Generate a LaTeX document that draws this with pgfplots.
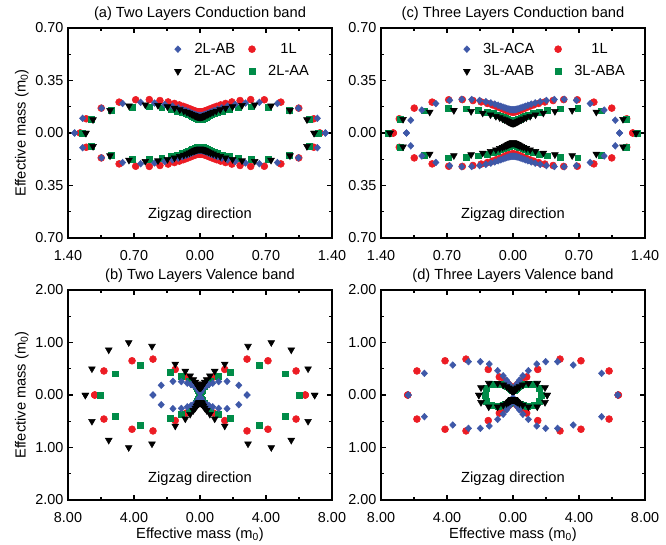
\documentclass[border=0pt]{standalone}
\usepackage{fontspec}
\setmainfont{Liberation Sans}
\usepackage{pgfplots}
\usepackage{pgfplotstable}
\pgfplotsset{compat=1.18}
\definecolor{myred}{RGB}{236,28,36}
\definecolor{myblue}{RGB}{62,88,168}
\definecolor{mygreen}{RGB}{0,140,72}

% ---------- quadrant data (first quadrant, angles 0..90 deg in 4.5 deg steps) ----------
% Panel (a) and (c): 1L conduction
\pgfplotstableread{
x y
1.270 0
1.2061 0.0949
1.0475 0.1659
0.8576 0.2059
0.6821 0.2216
0.5377 0.2227
0.4248 0.2165
0.3380 0.2071
0.2712 0.1970
0.2193 0.1873
0.1783 0.1783
0.1455 0.1704
0.1188 0.1635
0.0966 0.1577
0.0778 0.1528
0.0616 0.1487
0.0473 0.1455
0.0343 0.1431
0.0224 0.1413
0.0110 0.1403
0 0.140
}\redA
\pgfplotstableread{
x y
1.330 0
1.2450 0.0980
1.0437 0.1653
0.8207 0.1970
0.6296 0.2046
0.4824 0.1998
0.3729 0.1900
0.2919 0.1789
0.2314 0.1681
0.1854 0.1583
0.1497 0.1497
0.1215 0.1423
0.0988 0.1359
0.0800 0.1306
0.0643 0.1262
0.0508 0.1227
0.0389 0.1198
0.0283 0.1177
0.0184 0.1162
0.0091 0.1153
0 0.115
}\blueA
\pgfplotstableread{
x y
1.210 0
1.1344 0.0893
0.9544 0.1512
0.7534 0.1809
0.5800 0.1884
0.4454 0.1845
0.3450 0.1758
0.2705 0.1657
0.2146 0.1559
0.1721 0.1470
0.1390 0.1390
0.1129 0.1322
0.0918 0.1264
0.0744 0.1215
0.0598 0.1174
0.0473 0.1141
0.0362 0.1115
0.0263 0.1095
0.0171 0.1081
0.0084 0.1073
0 0.107
}\blackA
\pgfplotstableread{
x y
1.250 0
1.1565 0.0910
0.9439 0.1495
0.7209 0.1731
0.5399 0.1754
0.4061 0.1682
0.3099 0.1579
0.2403 0.1472
0.1891 0.1374
0.1506 0.1287
0.1212 0.1212
0.0981 0.1148
0.0795 0.1095
0.0643 0.1050
0.0516 0.1013
0.0407 0.0983
0.0312 0.0960
0.0226 0.0942
0.0147 0.0929
0.0073 0.0922
0 0.092
}\greenA
% Panel (c)
\pgfplotstableread{
x y
1.130 0
1.0846 0.0854
0.9671 0.1532
0.8182 0.1964
0.6714 0.2181
0.5434 0.2251
0.4384 0.2234
0.3546 0.2173
0.2881 0.2093
0.2352 0.2009
0.1928 0.1928
0.1583 0.1853
0.1298 0.1786
0.1060 0.1729
0.0856 0.1680
0.0679 0.1639
0.0522 0.1606
0.0380 0.1582
0.0248 0.1564
0.0122 0.1553
0 0.155
}\blueC
\pgfplotstableread{
x y
1.305 0
1.1661 0.0918
0.8832 0.1399
0.6273 0.1506
0.4444 0.1444
0.3216 0.1332
0.2388 0.1217
0.1817 0.1113
0.1410 0.1025
0.1113 0.0950
0.0888 0.0888
0.0715 0.0837
0.0577 0.0794
0.0466 0.0760
0.0373 0.0731
0.0293 0.0708
0.0224 0.0690
0.0162 0.0677
0.0106 0.0667
0.0052 0.0662
0 0.066
}\blackC
\pgfplotstableread{
x y
1.320 0
1.1985 0.0943
0.9382 0.1486
0.6872 0.1650
0.4981 0.1618
0.3660 0.1516
0.2747 0.1400
0.2105 0.1290
0.1642 0.1193
0.1301 0.1111
0.1042 0.1042
0.0840 0.0983
0.0679 0.0935
0.0549 0.0895
0.0439 0.0862
0.0346 0.0836
0.0265 0.0815
0.0192 0.0799
0.0125 0.0788
0.0062 0.0783
0 0.078
}\greenC
% Panel (b) and (d): 1L valence
\pgfplotstableread{
x y
6.38 0
5.822 0.458
4.119 0.652
2.849 0.684
1.500 0.487
0.831 0.344
0.535 0.272
0.384 0.235
0.283 0.206
0.213 0.182
0.163 0.163
0.130 0.152
0.100 0.138
0.078 0.128
0.064 0.125
0.050 0.120
0.039 0.119
0.028 0.117
0.019 0.119
0.009 0.120
0 0.120
}\redV
% Panel (b)
\pgfplotstableread{
x y
2.85 0
2.35 0.185
1.64 0.260
1.13 0.255
0.77 0.225
0.54 0.200
0.39 0.180
0.28 0.160
0.20 0.140
0.14 0.120
0.100 0.100
0.071 0.084
0.053 0.073
0.039 0.064
0.030 0.058
0.022 0.054
0.016 0.050
0.012 0.049
0.0075 0.047
0.0037 0.047
0 0.047
}\blueB
\pgfplotstableread{
x y
6.95 0
6.55 0.50
5.53 0.86
4.32 1.00
2.91 0.93
1.50 0.59
0.891 0.454
0.597 0.366
0.405 0.294
0.289 0.247
0.212 0.212
0.162 0.190
0.123 0.170
0.099 0.162
0.077 0.151
0.061 0.148
0.048 0.147
0.035 0.146
0.023 0.148
0.012 0.150
0 0.150
}\blackB
\pgfplotstableread{
x y
6.04 0
5.15 0.405
3.60 0.570
1.82 0.437
1.11 0.360
0.647 0.268
0.400 0.204
0.256 0.157
0.162 0.118
0.114 0.097
0.085 0.085
0.065 0.076
0.050 0.069
0.039 0.064
0.031 0.061
0.024 0.058
0.0185 0.057
0.0135 0.0564
0.0089 0.0563
0.0044 0.0558
0 0.056
}\greenB
% Panel (d)
\pgfplotstableread{
x y
6.35 0
5.37 0.413
3.65 0.571
2.70 0.635
1.98 0.635
1.44 0.590
0.93 0.463
0.597 0.366
0.388 0.282
0.259 0.221
0.177 0.177
0.123 0.144
0.088 0.121
0.063 0.102
0.045 0.089
0.033 0.079
0.023 0.071
0.016 0.066
0.010 0.062
0.005 0.060
0 0.060
}\blueD
\pgfplotstableread{
x y
2.07 0
1.94 0.140
1.47 0.225
0.933 0.224
0.590 0.192
0.388 0.161
0.267 0.136
0.196 0.120
0.146 0.106
0.114 0.097
0.092 0.092
0.075 0.087
0.062 0.085
0.051 0.084
0.042 0.083
0.034 0.083
0.027 0.084
0.020 0.085
0.013 0.085
0.007 0.086
0 0.086
}\blackD
\pgfplotstableread{
x y
1.70 0
1.615 0.127
1.284 0.203
0.875 0.210
0.618 0.200
0.443 0.184
0.330 0.168
0.247 0.152
0.186 0.135
0.144 0.123
0.113 0.113
0.091 0.106
0.073 0.101
0.060 0.098
0.049 0.095
0.038 0.092
0.030 0.091
0.022 0.090
0.014 0.090
0.007 0.090
0 0.090
}\greenD

\newcommand{\fourq}[2]{%
  \addplot[#1, forget plot] table[x=x,y=y]{#2};
  \addplot[#1, forget plot] table[x expr=-\thisrow{x},y=y]{#2};
  \addplot[#1, forget plot] table[x=x,y expr=-\thisrow{y}]{#2};
  \addplot[#1, forget plot] table[x expr=-\thisrow{x},y expr=-\thisrow{y}]{#2};
}

\newcommand{\lfont}{\fontsize{11}{13}\selectfont}

\pgfplotsset{
  every axis title shift=0pt,
  sred/.style={only marks, mark=*, mark size=2.6pt, color=myred},
  sblue/.style={only marks, mark=diamond*, mark size=2.5pt, color=myblue, mark options={xscale=1.25}},
  sblack/.style={only marks, mark=triangle*, mark size=2.9pt, color=black, mark options={rotate=180}},
  sgreen/.style={only marks, mark=square*, mark size=2.2pt, color=mygreen},
  panel/.style={
    scale only axis, width=198pt, height=157.5pt, anchor=north west,
    axis line style={line width=1.1pt},
    tick align=inside, tick pos=both,
    major tick length=4pt, minor tick length=2.5pt,
    tick style={line width=0.9pt, black},
    minor tick style={line width=0.9pt, black},
    ticklabel style={font=\fontsize{10.8}{12}\selectfont},
    xticklabel style={yshift=-5.5pt},
    enlargelimits=false,
    title style={at={(0.5,1.067)}, anchor=center, font=\lfont},
    ylabel style={at={(axis description cs:-0.175,0.5)}, anchor=center, font=\lfont},
    xlabel style={at={(axis description cs:0.5,-0.163)}, anchor=center, font=\lfont},
    legend columns=2, legend cell align=center,
    legend image code/.code={%
      \path (0cm,0cm) (0.65cm,0cm);
      \draw[#1] plot coordinates {(0.3cm,0cm)};},
  },
  cond/.style={
    xmin=-1.4, xmax=1.4, ymin=-0.7, ymax=0.7,
    xtick={-1.4,-0.7,0,0.7,1.4}, xticklabels={1.40,0.70,0.00,0.70,1.40},
    minor xtick={-1.05,-0.35,0.35,1.05},
    ytick={-0.7,-0.35,0,0.35,0.7}, yticklabels={0.70,0.35,0.00,0.35,0.70},
    minor ytick={-0.525,-0.175,0.175,0.525},
  },
  val/.style={
    xmin=-8, xmax=8, ymin=-2, ymax=2,
    xtick={-8,-4,0,4,8}, xticklabels={8.00,4.00,0.00,4.00,8.00},
    minor xtick={-6,-2,2,6},
    ytick={-2,-1,0,1,2}, yticklabels={2.00,1.00,0.00,1.00,2.00},
    minor ytick={-1.5,-0.5,0.5,1.5},
  },
}

\begin{document}
\begin{tikzpicture}
\path[use as bounding box] (0,0) rectangle (499.5pt,-408pt);

% (a)
\begin{axis}[panel, cond, at={(51pt,-21pt)},
  title={(a) Two Layers Conduction band},
  ylabel={Effective mass (m\textsubscript{0})},
  legend style={draw=none, fill=none, font=\lfont, at={(0.356,0.955)}, anchor=north west,
    row sep=3.5pt, /tikz/every even column/.append style={column sep=1.5pt}},
]
\fourq{sred}{\redA}
\fourq{sgreen}{\greenA}
\fourq{sblue}{\blueA}
\fourq{sblack}{\blackA}
\addlegendimage{sblue}\addlegendentry{2L-AB}
\addlegendimage{sred}\addlegendentry{1L}
\addlegendimage{sblack}\addlegendentry{2L-AC}
\addlegendimage{sgreen}\addlegendentry{2L-AA}
\node[font=\lfont] at (axis description cs:0.5,0.11) {Zigzag direction};
\end{axis}

% (c)
\begin{axis}[panel, cond, at={(285.75pt,-21pt)},
  title={(c) Three Layers Conduction band},
  legend style={draw=none, fill=none, font=\lfont, at={(0.265,0.955)}, anchor=north west,
    row sep=3.5pt, /tikz/every even column/.append style={column sep=7pt}},
]
\fourq{sred}{\redA}
\fourq{sgreen}{\greenC}
\fourq{sblue}{\blueC}
\fourq{sblack}{\blackC}
\addlegendimage{sblue}\addlegendentry{3L-ACA}
\addlegendimage{sred}\addlegendentry{1L}
\addlegendimage{sblack}\addlegendentry{3L-AAB}
\addlegendimage{sgreen}\addlegendentry{3L-ABA}
\node[font=\lfont] at (axis description cs:0.5,0.11) {Zigzag direction};
\end{axis}

% (b)
\begin{axis}[panel, val, at={(51pt,-217.5pt)},
  title={(b) Two Layers Valence band},
  ylabel={Effective mass (m\textsubscript{0})},
  xlabel={Effective mass (m\textsubscript{0})},
]
\fourq{sred}{\redV}
\fourq{sgreen}{\greenB}
\fourq{sblue}{\blueB}
\fourq{sblack}{\blackB}
\node[font=\lfont] at (axis description cs:0.5,0.10) {Zigzag direction};
\end{axis}

% (d)
\begin{axis}[panel, val, at={(285.75pt,-217.5pt)},
  title={(d) Three Layers Valence band},
  xlabel={Effective mass (m\textsubscript{0})},
]
\fourq{sred}{\redV}
\fourq{sgreen}{\greenD}
\fourq{sblue}{\blueD}
\fourq{sblack}{\blackD}
\node[font=\lfont] at (axis description cs:0.5,0.10) {Zigzag direction};
\end{axis}
\end{tikzpicture}
\end{document}
